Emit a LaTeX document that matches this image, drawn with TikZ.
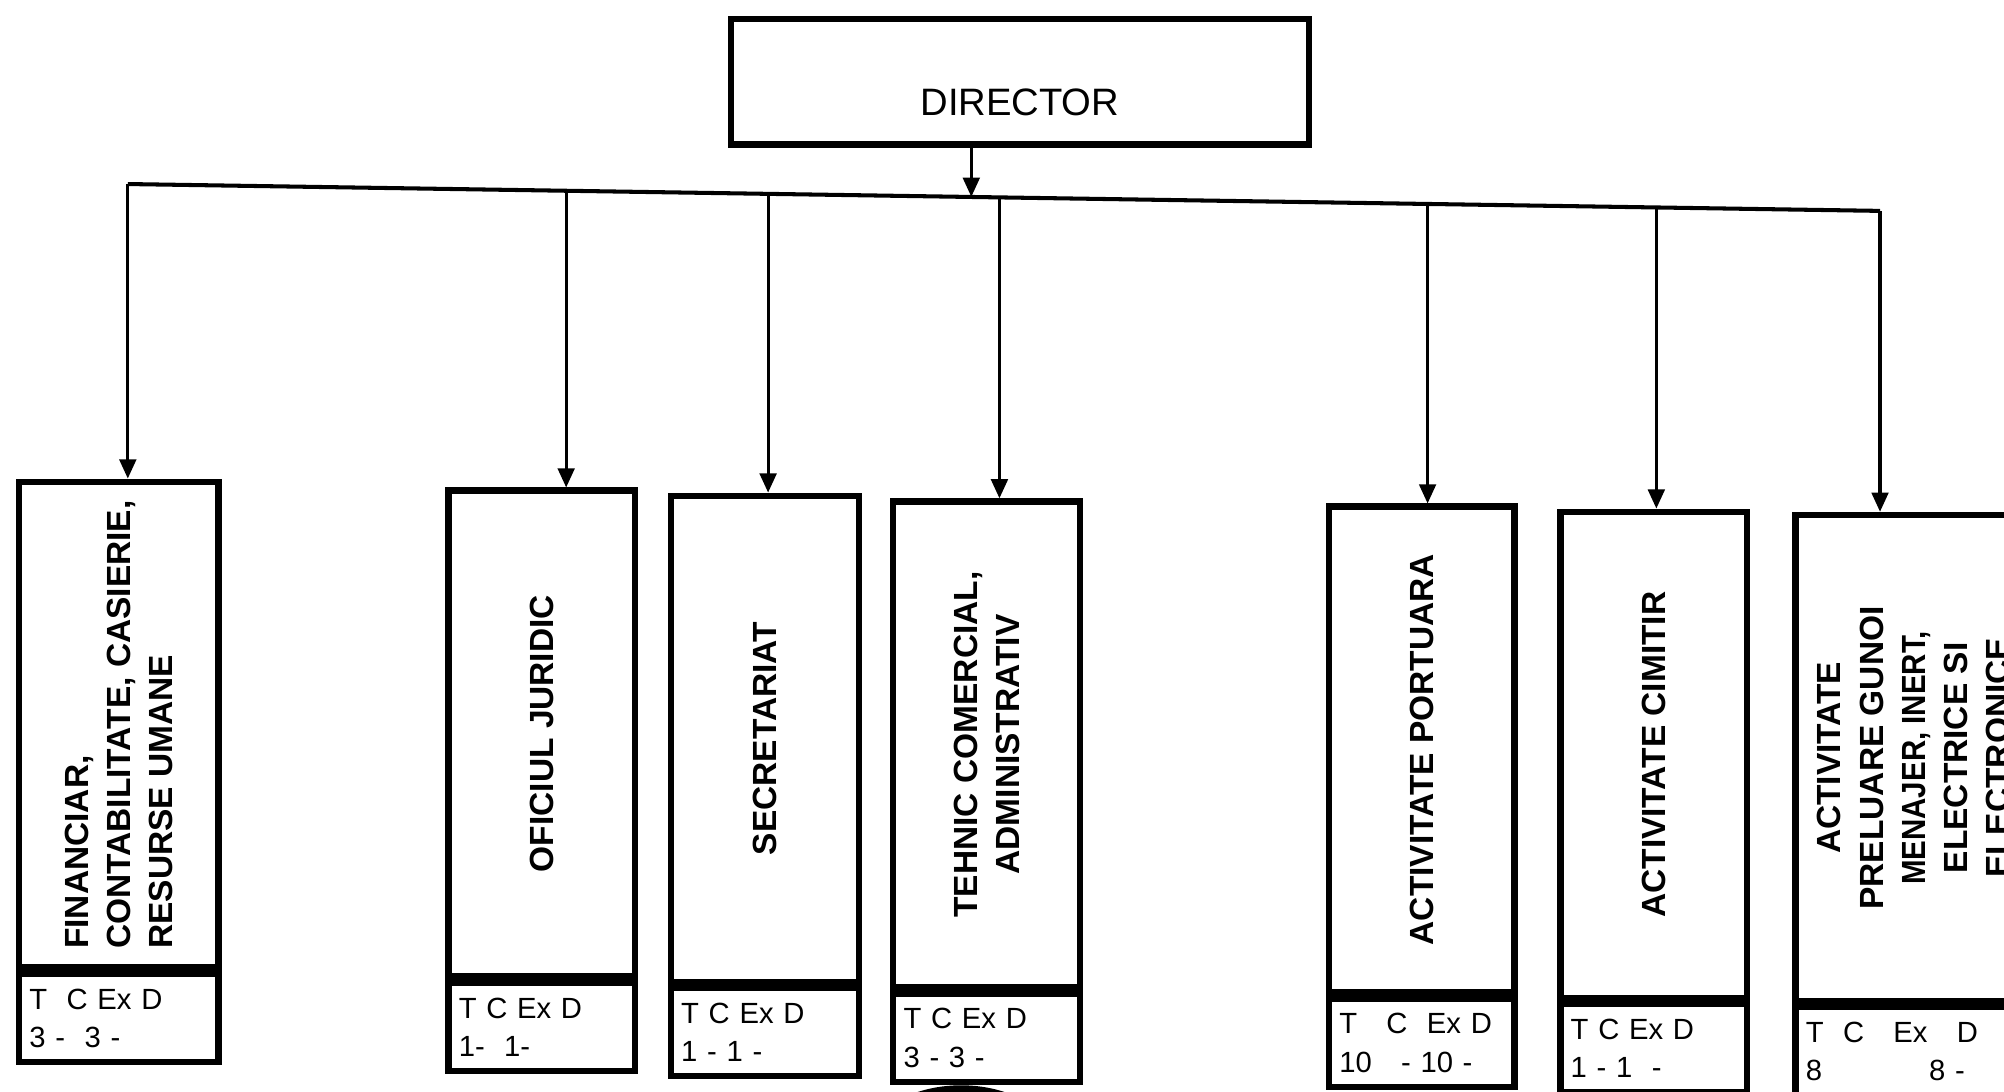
\documentclass[tikz,border=0pt]{standalone}
\usepackage{fontspec}
\setmainfont{Liberation Sans}
\usetikzlibrary{arrows.meta}

\begin{document}
\begin{tikzpicture}[x=0.01cm, y=-0.01cm,
		box/.style={draw, line width=1.4pt, inner sep=0pt},
		dept/.style={box, rotate=90, align=center, minimum width=3.8cm, font=\fontsize{7.45}{9.4}\selectfont\bfseries},
		tab/.style={box, anchor=north, align=left, inner xsep=0.08cm, minimum height=0.69cm, text width=#1, font=\fontsize{6.5}{8.5}\selectfont},
		link/.style={line width=0.7pt, -{Triangle[length=0.15cm, width=0.13cm]}},
		bus/.style={line width=0.9pt}]
		\useasboundingbox (0,0) rectangle (1568,854);
		\clip (0,0) rectangle (1568,854);
		
		\node[box, minimum width=4.52cm, minimum height=0.98cm, label={[font=\fontsize{8.5}{10}\selectfont, yshift=-0.16cm]center:DIRECTOR}] (dir) at (798,64) {};
		
		\coordinate (b0) at (760,154);
		\coordinate (b1) at (100,144);
		\coordinate (b2) at (443,149.3);
		\coordinate (b3) at (601,151.7);
		\coordinate (b4) at (782,154.4);
		\coordinate (b5) at (1117,159.6);
		\coordinate (b6) at (1296,162.3);
		\coordinate (b7) at (1471,165);
		\draw[bus] (b1) -- (b7);
		\draw[link] (dir.south -| b0) -- (b0);
		
		\node[dept, minimum height=1.56cm, align=left] (fin) at (93,567) {FINANCIAR,\\CONTABILITATE, CASIERIE,\\RESURSE UMANE};
		\node[tab=1.40cm] (fint) at (fin.west) {T~~C Ex D\\3 -~~3 -};
		\node[dept, minimum height=1.46cm] (ofi) at (424,574) {OFICIUL JURIDIC};
		\node[tab=1.30cm] (ofit) at (ofi.west) {T C Ex D\\1-~~1-};
		\node[dept, minimum height=1.47cm] (sec) at (598.5,578) {SECRETARIAT};
		\node[tab=1.31cm] (sect) at (sec.west) {T C Ex D\\1 - 1 -};
		\node[dept, minimum height=1.46cm] (teh) at (772,582.5) {TEHNIC COMERCIAL,\\ADMINISTRATIV};
		\node[tab=1.30cm] (teht) at (teh.west) {T C Ex D\\3 - 3 -};
		\node[dept, minimum height=1.45cm] (por) at (1112.5,586.5) {ACTIVITATE PORTUARA};
		\node[tab=1.29cm] (port) at (por.west) {T~~~C~~Ex D\\10~~~- 10 -};
		\node[dept, minimum height=1.46cm] (cim) at (1294,590.5) {ACTIVITATE CIMITIR};
		\node[tab=1.30cm] (cimt) at (cim.west) {T C Ex D\\1 - 1~~-};
		\node[dept, minimum height=1.85cm] (pre) at (1497.5,593) {ACTIVITATE\\PRELUARE GUNOI\\\scalebox{0.88}[1]{MENAJER, INERT,}\\ELECTRICE SI\\ELECTRONICE};
		\node[tab=1.69cm] (pret) at (pre.west) {T~~C~~~Ex~~~D\\8~~~~~~~~~~~8 -};
		
		\draw[link] (b1) -- (b1 |- fin.east);
		\draw[link] (b2) -- (b2 |- ofi.east);
		\draw[link] (b3) -- (b3 |- sec.east);
		\draw[link] (b4) -- (b4 |- teh.east);
		\draw[link] (b5) -- (b5 |- por.east);
		\draw[link] (b6) -- (b6 |- cim.east);
		\draw[link] (b7) -- (b7 |- pre.east);
		
		\draw[line width=1.6pt] (752,902) ellipse [x radius=0.75cm, y radius=0.5cm];
\end{tikzpicture}
\end{document}
